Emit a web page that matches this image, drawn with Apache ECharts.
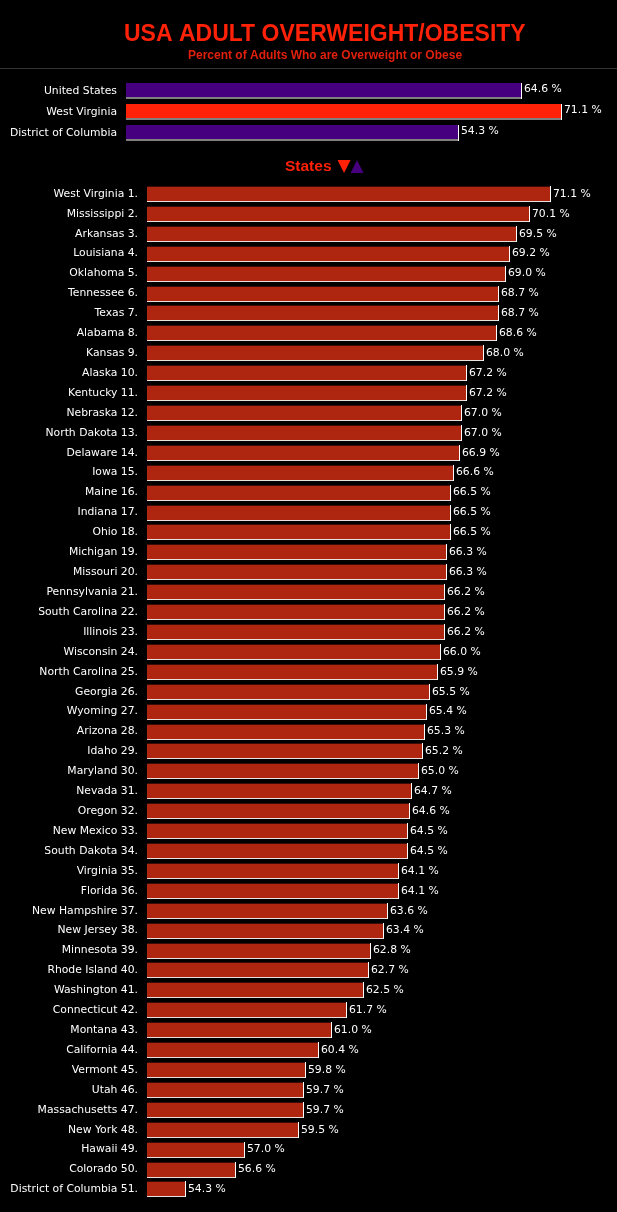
<!DOCTYPE html>
<html><head><meta charset="utf-8">
<style>html,body{margin:0;padding:0;background:#000}#c{width:617px;height:1212px}</style>
<script src="https://cdn.jsdelivr.net/npm/echarts@6/dist/echarts.min.js"></script>
</head><body><div id="c"></div>
<script>
const summaryNames = ["United States","West Virginia","District of Columbia"];
const summaryValues = [64.6,71.1,54.3];
const summaryColors = ["#46007f","#ff2108","#46007f"];
const stateNames = ["West Virginia","Mississippi","Arkansas","Louisiana","Oklahoma","Tennessee","Texas","Alabama","Kansas","Alaska","Kentucky","Nebraska","North Dakota","Delaware","Iowa","Maine","Indiana","Ohio","Michigan","Missouri","Pennsylvania","South Carolina","Illinois","Wisconsin","North Carolina","Georgia","Wyoming","Arizona","Idaho","Maryland","Nevada","Oregon","New Mexico","South Dakota","Virginia","Florida","New Hampshire","New Jersey","Minnesota","Rhode Island","Washington","Connecticut","Montana","California","Vermont","Utah","Massachusetts","New York","Hawaii","Colorado","District of Columbia"];
const stateValues = [71.1,70.1,69.5,69.2,69.0,68.7,68.7,68.6,68.0,67.2,67.2,67.0,67.0,66.9,66.6,66.5,66.5,66.5,66.3,66.3,66.2,66.2,66.2,66.0,65.9,65.5,65.4,65.3,65.2,65.0,64.7,64.6,64.5,64.5,64.1,64.1,63.6,63.4,62.8,62.7,62.5,61.7,61.0,60.4,59.8,59.7,59.7,59.5,57.0,56.6,54.3];
const stateColor = "#ae2610";
const FONT = '"DejaVu Sans"';

function bevelBar(colorOf, opts){
  return function(params, api){
    const v = api.value(0), idx = api.value(1);
    const end = api.coord([v, idx]);
    const x0 = params.coordSys.x, x1 = Math.round(end[0]), yc = end[1];
    const top = Math.round(yc - 8);
    const w = x1 - x0;
    const fill = colorOf(params.dataIndex);
    return {type:'group',children:[
      {type:'rect',shape:{x:x0,y:top,width:w,height:16},style:{fill:opts.edge}},
      {type:'rect',shape:{x:x1-1,y:top,width:1,height:16},style:{fill:'#fff'}},
      {type:'rect',shape:{x:x0,y:top,width:w-1,height:opts.topH+14},style:{fill:opts.shadow}},
      {type:'rect',shape:{x:x0,y:top+opts.topH,width:w-1,height:14},style:{fill:fill}},
      {type:'text',x:x1+2,y:yc+opts.labelDy,style:{text:v.toFixed(1)+' %',fill:'#fff',font:'10.8px '+FONT,textAlign:'left',textVerticalAlign:'middle'}}
    ]};
  };
}

const chart = echarts.init(document.getElementById('c'),null,{renderer:'canvas'});
chart.setOption({
  backgroundColor:'#000',
  animation:false,
  title:[
    {text:'USA ADULT OVERWEIGHT/OBESITY',left:119,top:18,textStyle:{color:'#ff2108',fontFamily:'"Liberation Sans"',fontWeight:'bold',fontSize:23}},
    {text:'Percent of Adults Who are Overweight or Obese',left:183,top:45,textStyle:{color:'#e0200c',fontFamily:'"Liberation Sans"',fontWeight:'bold',fontSize:12}},
    {text:'States{d|▼}{u|▲}',left:280,top:153,textStyle:{color:'#ff2108',fontFamily:'"Liberation Sans"',fontWeight:'bold',fontSize:15.5,rich:{d:{color:'#ff2108',fontSize:17,fontWeight:'normal',fontFamily:'"DejaVu Sans"',padding:[0,0,0,6]},u:{color:'#46007f',fontSize:17,fontWeight:'normal',fontFamily:'"DejaVu Sans"'}}}}
  ],
  graphic:[{type:'line',shape:{x1:0,y1:68.5,x2:617,y2:68.5},style:{stroke:'#333',lineWidth:1}}],
  grid:[
    {left:126,top:80.5,width:491,height:63},
    {left:147,top:184,width:424,height:1015.4}
  ],
  xAxis:[
    {gridIndex:0,type:'value',min:0,max:80,show:false},
    {gridIndex:1,type:'value',min:52.5,max:72,show:false}
  ],
  yAxis:[
    {gridIndex:0,type:'category',inverse:true,data:summaryNames,axisLine:{show:false},axisTick:{show:false},
     axisLabel:{color:'#fff',fontFamily:FONT,fontSize:10.8,margin:9,interval:0,padding:[0,0,4,0]}},
    {gridIndex:1,type:'category',inverse:true,data:stateNames.map((n,i)=>n+' '+(i+1)+'.'),axisLine:{show:false},axisTick:{show:false},
     axisLabel:{color:'#fff',fontFamily:FONT,fontSize:10.8,margin:9,interval:0}}
  ],
  series:[
    {type:'custom',xAxisIndex:0,yAxisIndex:0,clip:false,encode:{x:0,y:1},
     data:summaryValues.map((v,i)=>[v,i]),renderItem:bevelBar(i=>summaryColors[i],{edge:'#808080',shadow:'#000',topH:0,labelDy:-1.5})},
    {type:'custom',xAxisIndex:1,yAxisIndex:1,clip:false,encode:{x:0,y:1},
     data:stateValues.map((v,i)=>[v,i]),renderItem:bevelBar(()=>stateColor,{edge:'#e8e0dc',shadow:'#3a0c05',topH:1,labelDy:0})}
  ]
});
</script></body></html>
